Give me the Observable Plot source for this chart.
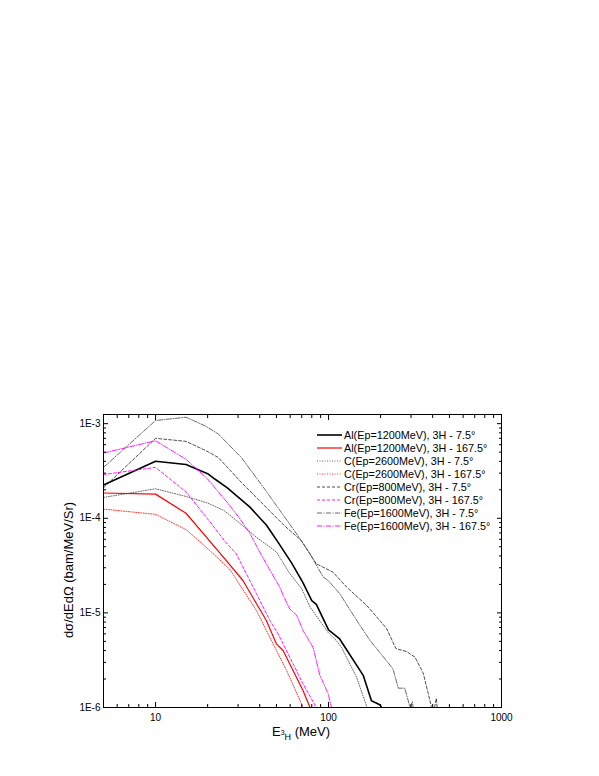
<!DOCTYPE html>
<html><head><meta charset="utf-8">
<script src="https://cdn.jsdelivr.net/npm/d3@7"></script>
<script src="https://cdn.jsdelivr.net/npm/@observablehq/plot@0.6"></script>
<style>
body{margin:0;background:#fff;font-family:"Liberation Sans",Arial,sans-serif;}
#wrap{position:relative;width:599px;height:776px;overflow:hidden;}
#legend{position:absolute;left:316px;top:429px;font-size:10.8px;color:#000;}
#legend .row{height:12.95px;display:flex;align-items:center;white-space:nowrap;}
#legend svg{margin-right:1px;}
#ylab{position:absolute;left:68px;top:570px;transform:translate(-50%,-50%) rotate(-90deg);font-size:13px;white-space:nowrap;}
#xlab{position:absolute;left:301px;top:725px;transform:translateX(-50%);font-size:13px;white-space:nowrap;line-height:13px;}
</style></head><body>
<div id="wrap"><div id="chart"></div></div>
<script>
// ---- data ----
const seriesNames = [
  "Al(Ep=1200MeV), 3H - 7.5°",
  "Al(Ep=1200MeV), 3H - 167.5°",
  "C(Ep=2600MeV), 3H - 7.5°",
  "C(Ep=2600MeV), 3H - 167.5°",
  "Cr(Ep=800MeV), 3H - 7.5°",
  "Cr(Ep=800MeV), 3H - 167.5°",
  "Fe(Ep=1600MeV), 3H - 7.5°",
  "Fe(Ep=1600MeV), 3H - 167.5°"
];
const alFwdE = [5,10,15,20,22,26,35,43.7,51,61,71,80,85,100,116,159,177,198,210];
const alFwdV = [2.25e-4,4.0e-4,3.7e-4,2.96e-4,2.6e-4,2.1e-4,1.32e-4,8.5e-5,5.6e-5,3.4e-5,2.1e-5,1.35e-5,1.23e-5,6.6e-6,5.3e-6,2.17e-6,1.18e-6,1.07e-6,9e-7];
const alBwdE = [5,10,15,23.5,32,43.7,50,54.6,71.3,78.2,80];
const alBwdV = [1.85e-4,1.8e-4,1.13e-4,4.3e-5,2.2e-5,8.3e-6,4.7e-6,4.0e-6,1.5e-6,1.0e-6,9e-7];
const cFwdE = [5,10,15,20,25,29.3,38.3,50,59.7,70,78.2,99.5,111,119,145,167,175];
const cFwdV = [1.66e-4,2.05e-4,1.7e-4,1.45e-4,1.2e-4,9.5e-5,6.3e-5,4.4e-5,2.6e-5,1.8e-5,1.15e-5,6.2e-6,5.1e-6,4.3e-6,2.1e-6,1.0e-6,8e-7];
const cBwdE = [5,10,15,20.5,26.8,38.3,47.8,57,71.3,75];
const cBwdV = [1.25e-4,1.1e-4,7.6e-5,4.6e-5,2.9e-5,1.06e-5,4.7e-6,2.5e-6,1.0e-6,8e-7];
const crFwdE = [5,10,15,19.5,23,31.3,42.8,55.8,69.7,85,106,127,166,198,217,245,283,316,353,385,394,410,420,430];
const crFwdV = [2.1e-4,7.0e-4,6.5e-4,5.2e-4,4.4e-4,2.4e-4,1.35e-4,8.3e-5,5.8e-5,3.3e-5,2.7e-5,1.88e-5,1.2e-5,8.3e-6,6.8e-6,4.2e-6,3.9e-6,3.4e-6,2.3e-6,1.2e-6,1.0e-6,1.0e-6,1.25e-6,8e-7];
const crBwdE = [5,10,15,20.6,25,29.3,38.3,45.8,51.1,59.7,71.3,85,90];
const crBwdV = [2.9e-4,3.45e-4,1.9e-4,9.2e-5,5.8e-5,4.2e-5,1.6e-5,8.3e-6,6.0e-6,3.4e-6,1.77e-6,1.0e-6,8e-7];
const feFwdE = [5,10,15,19.5,23,31.3,42.8,53.4,66.7,78.2,93,99.5,116,151,174,217,236,253,276,296,305,315];
const feFwdV = [3.45e-4,1.08e-3,1.17e-3,9.4e-4,7.8e-4,4.4e-4,2.03e-4,1.15e-4,6.5e-5,4.2e-5,2.4e-5,2.2e-5,1.6e-5,7.5e-6,5.1e-6,3.1e-6,2.55e-6,1.6e-6,1.6e-6,1.0e-6,1.15e-6,8e-7];
const feBwdE = [5,10,15,20,25,30,35,40,46,52,55,59.7,65.3,71.3,81.5,89,99.5,104,108];
const feBwdV = [4.9e-4,6.6e-4,4.2e-4,2.6e-4,1.6e-4,1.05e-4,7e-5,4.4e-5,2.8e-5,1.9e-5,1.5e-5,1.1e-5,9.5e-6,6.5e-6,4.3e-6,2.2e-6,1.4e-6,1.0e-6,8e-7];
const xMajorTicks = [10,100,1000];
const xMinorTicks = [6,7,8,9,20,30,40,50,60,70,80,90,200,300,400,500,600,700,800,900];
const yMajorTicks = [1e-6,1e-5,1e-4,1e-3];
const yMinorTicks = [2e-6,3e-6,4e-6,5e-6,6e-6,7e-6,8e-6,9e-6,2e-5,3e-5,4e-5,5e-5,6e-5,7e-5,8e-5,9e-5,2e-4,3e-4,4e-4,5e-4,6e-4,7e-4,8e-4,9e-4];

// ---- styles ----
const seriesStyles = [
  {stroke:"#000", width:1.6, dash:null},
  {stroke:"#ff0000", width:1.2, dash:null},
  {stroke:"#444", width:0.8, dash:"1,1.5"},
  {stroke:"#ff0000", width:0.8, dash:"1,1.5"},
  {stroke:"#222", width:0.8, dash:"3,2"},
  {stroke:"#ff00ff", width:0.9, dash:"3,2"},
  {stroke:"#444", width:0.8, dash:"5,1.5,1,1.5"},
  {stroke:"#ff00ff", width:0.9, dash:"5,1.5,1,1.5"}
];
const seriesE = [alFwdE, alBwdE, cFwdE, cBwdE, crFwdE, crBwdE, feFwdE, feBwdE];
const seriesV = [alFwdV, alBwdV, cFwdV, cBwdV, crFwdV, crBwdV, feFwdV, feBwdV];

const rows = [];
seriesNames.forEach((name, i) => seriesE[i].forEach((e, j) => rows.push({name, i, E: e, V: seriesV[i][j]})));

const lineMarks = seriesNames.map((name, i) => Plot.line(rows.filter(r => r.i === i), {
  x: "E", y: "V", stroke: seriesStyles[i].stroke, strokeWidth: seriesStyles[i].width,
  strokeDasharray: seriesStyles[i].dash, clip: true, curve: "linear"
}));

const blank = () => "";
const plot = Plot.plot({
  width: 599, height: 776,
  marginTop: 414, marginLeft: 103, marginRight: 98, marginBottom: 69,
  style: {fontFamily: '"Liberation Sans", Arial, sans-serif', fontSize: "10px", color: "#000", background: "#fff"},
  x: {type: "log", domain: [5, 1000]},
  y: {type: "log", domain: [1e-6, 1.25e-3]},
  marks: [
    ...lineMarks,
    Plot.axisX({anchor: "bottom", ticks: xMajorTicks, tickSize: -5, tickFormat: blank, label: null}),
    Plot.axisX({anchor: "bottom", ticks: xMinorTicks, tickSize: -3, tickFormat: blank, label: null}),
    Plot.axisX({anchor: "bottom", ticks: xMajorTicks, tickSize: 0, tickPadding: 6, tickFormat: d => String(d), label: null, fontSize: 10}),
    Plot.axisX({anchor: "top", ticks: xMajorTicks, tickSize: -5, tickFormat: blank, label: null}),
    Plot.axisX({anchor: "top", ticks: xMinorTicks, tickSize: -3, tickFormat: blank, label: null}),
    Plot.axisY({anchor: "left", ticks: yMajorTicks, tickSize: -5, tickFormat: blank, label: null}),
    Plot.axisY({anchor: "left", ticks: yMinorTicks, tickSize: -3, tickFormat: blank, label: null}),
    Plot.axisY({anchor: "left", ticks: yMajorTicks, tickSize: 0, tickPadding: 3, tickFormat: d => "1E" + Math.round(Math.log10(d)), label: null, fontSize: 10}),
    Plot.axisY({anchor: "right", ticks: yMajorTicks, tickSize: -5, tickFormat: blank, label: null}),
    Plot.axisY({anchor: "right", ticks: yMinorTicks, tickSize: -3, tickFormat: blank, label: null}),
    Plot.frame({stroke: "#000", strokeWidth: 1})
  ]
});
document.getElementById("chart").appendChild(plot);

// legend
const wrap = document.getElementById("wrap");
const lg = document.createElement("div");
lg.id = "legend";
seriesNames.forEach((name, i) => {
  const s = seriesStyles[i];
  const row = document.createElement("div");
  row.className = "row";
  row.innerHTML = `<svg width="27" height="6"><line x1="1" x2="26" y1="3" y2="3" stroke="${s.stroke}" stroke-width="${s.width}" ${s.dash ? `stroke-dasharray="${s.dash}"` : ""}/></svg><span>${name}</span>`;
  lg.appendChild(row);
});
wrap.appendChild(lg);

const yl = document.createElement("div");
yl.id = "ylab";
yl.textContent = "dσ/dEdΩ (bam/MeV/Sr)";
wrap.appendChild(yl);

const xl = document.createElement("div");
xl.id = "xlab";
xl.innerHTML = 'E<span style="font-size:7px;position:relative;top:-1px;">3</span><span style="font-size:9px;position:relative;top:4px;">H</span> (MeV)';
wrap.appendChild(xl);
</script>
</body></html>
